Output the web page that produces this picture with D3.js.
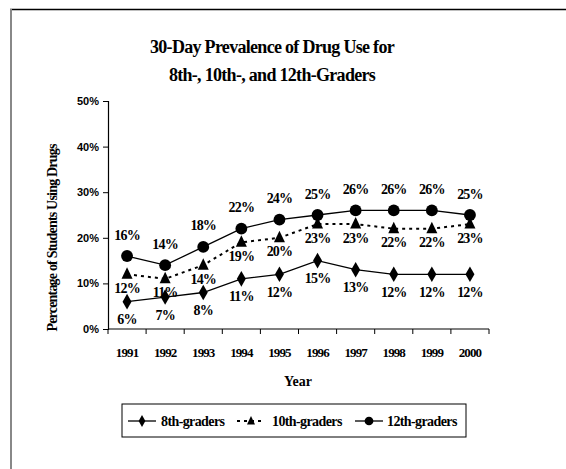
<!DOCTYPE html>
<html>
<head>
<meta charset="utf-8">
<script src="https://cdn.jsdelivr.net/npm/d3@7"></script>
<style>
  body { margin: 0; background: #fff; }
</style>
</head>
<body>
<svg id="chart" width="566" height="469"></svg>
<script>
// data
const years = ['1991', '1992', '1993', '1994', '1995', '1996', '1997', '1998', '1999', '2000'];
const eighth = [6, 7, 8, 11, 12, 15, 13, 12, 12, 12];
const tenth = [12, 11, 14, 19, 20, 23, 23, 22, 22, 23];
const twelfth = [16, 14, 18, 22, 24, 25, 26, 26, 26, 25];
const yTicks = [0, 10, 20, 30, 40, 50];
const seriesNames = ['8th-graders', '10th-graders', '12th-graders'];

const W = 566, H = 469;
const SERIF = "'Liberation Serif', 'Times New Roman', Times, 'DejaVu Serif', serif";
const SANS = "'Liberation Sans', Arial, Helvetica, sans-serif";
const svg = d3.select('#chart');

function txt(sel, size) {
  return sel.attr('font-family', SERIF).attr('font-weight', 'bold').attr('font-size', size).attr('fill', '#000');
}

// frame (only top and left edges are visible)
svg.append('line').attr('x1', 10).attr('x2', W).attr('y1', 9.5).attr('y2', 9.5)
  .attr('stroke', '#000').attr('stroke-width', 1.5);
svg.append('line').attr('x1', 11).attr('x2', 11).attr('y1', 9).attr('y2', H)
  .attr('stroke', '#888').attr('stroke-width', 2);

const x = d3.scaleBand().domain(years).range([108, 489]);
const y = d3.scaleLinear().domain([0, 50]).range([329, 101]);
const cx = d => x(d) + x.bandwidth() / 2;

// title
txt(svg.append('text'), 18).attr('x', 272).attr('y', 53).attr('text-anchor', 'middle')
  .attr('letter-spacing', -0.7).text('30-Day Prevalence of Drug Use for');
txt(svg.append('text'), 18).attr('x', 272).attr('y', 81).attr('text-anchor', 'middle')
  .attr('letter-spacing', -0.7).text('8th-, 10th-, and 12th-Graders');

// y axis
const yAxis = svg.append('g').attr('transform', 'translate(108,0)')
  .call(d3.axisLeft(y).tickValues(yTicks).tickFormat(d => d + '%').tickSize(5).tickPadding(4));
yAxis.select('.domain').attr('stroke', '#000').attr('stroke-width', 1.2);
yAxis.selectAll('line').attr('stroke', '#000');
yAxis.selectAll('text').attr('font-family', SANS).attr('font-size', 11).attr('font-weight', 'bold');

// x axis: ticks sit on the category boundaries
const xAxis = svg.append('g').attr('transform', 'translate(0,329)');
xAxis.append('line').attr('x1', 108).attr('x2', 489).attr('stroke', '#000').attr('stroke-width', 1.2);
xAxis.selectAll('line.tk').data(years.concat(['end'])).enter().append('line').attr('class', 'tk')
  .attr('x1', (d, i) => i < years.length ? x(d) : x(years[years.length - 1]) + x.bandwidth())
  .attr('x2', (d, i) => i < years.length ? x(d) : x(years[years.length - 1]) + x.bandwidth())
  .attr('y1', 0).attr('y2', 5).attr('stroke', '#000');
txt(xAxis.selectAll('text').data(years).enter().append('text'), 13)
  .attr('x', d => cx(d)).attr('y', 28).attr('text-anchor', 'middle')
  .attr('letter-spacing', -0.9).text(d => d);

// axis titles
txt(svg.append('text'), 14).attr('x', 298).attr('y', 386).attr('text-anchor', 'middle').text('Year');
txt(svg.append('text'), 14).attr('transform', 'translate(57,238) rotate(-90)').attr('text-anchor', 'middle')
  .attr('letter-spacing', -0.8).text('Percentage of Students Using Drugs');

const line = d3.line().x((d, i) => cx(years[i])).y(d => y(d));

function drawSeries(vals, dash, marker, labelDy) {
  svg.append('path').datum(vals).attr('d', line).attr('fill', 'none')
    .attr('stroke', '#000').attr('stroke-width', dash ? 2 : 1.3)
    .attr('stroke-dasharray', dash || null);
  svg.append('g').selectAll('path').data(vals).enter().append('path')
    .attr('d', marker)
    .attr('transform', (d, i) => `translate(${cx(years[i])},${y(d)})`)
    .attr('fill', '#000');
  txt(svg.append('g').selectAll('text').data(vals).enter().append('text'), 14)
    .attr('x', (d, i) => cx(years[i])).attr('y', d => y(d) + labelDy)
    .attr('text-anchor', 'middle').attr('dominant-baseline', 'central')
    .attr('letter-spacing', -0.8).text(d => d + '%');
}

const diamond = d3.symbol().type(d3.symbolDiamond).size(70)();
const triangle = 'M0,-7L5.5,4.5L-5.5,4.5Z';
const circle = d3.symbol().type(d3.symbolCircle).size(110)();

drawSeries(eighth, null, diamond, 18);
drawSeries(tenth, '3,4', triangle, 14);
drawSeries(twelfth, null, circle, -21);

// legend
const lg = svg.append('g');
lg.append('rect').attr('x', 122).attr('y', 404).attr('width', 344).attr('height', 33)
  .attr('fill', 'none').attr('stroke', '#000').attr('stroke-width', 1);
const legendItems = [
  { name: seriesNames[0], x0: 128, dash: null, marker: d3.symbol().type(d3.symbolDiamond).size(40)(), tx: 161 },
  { name: seriesNames[1], x0: 237, dash: '3,4', marker: 'M0,-5L4,3.5L-4,3.5Z', tx: 272 },
  { name: seriesNames[2], x0: 355, dash: null, marker: d3.symbol().type(d3.symbolCircle).size(60)(), tx: 387 }
];
legendItems.forEach(it => {
  lg.append('line').attr('x1', it.x0).attr('x2', it.x0 + 28).attr('y1', 421).attr('y2', 421)
    .attr('stroke', '#000').attr('stroke-width', it.dash ? 2 : 1.3).attr('stroke-dasharray', it.dash);
  lg.append('path').attr('d', it.marker).attr('transform', `translate(${it.x0 + 14},421)`).attr('fill', '#000');
  txt(lg.append('text'), 14).attr('x', it.tx).attr('y', 425.5).attr('letter-spacing', -0.6).text(it.name);
});
</script>
</body>
</html>
